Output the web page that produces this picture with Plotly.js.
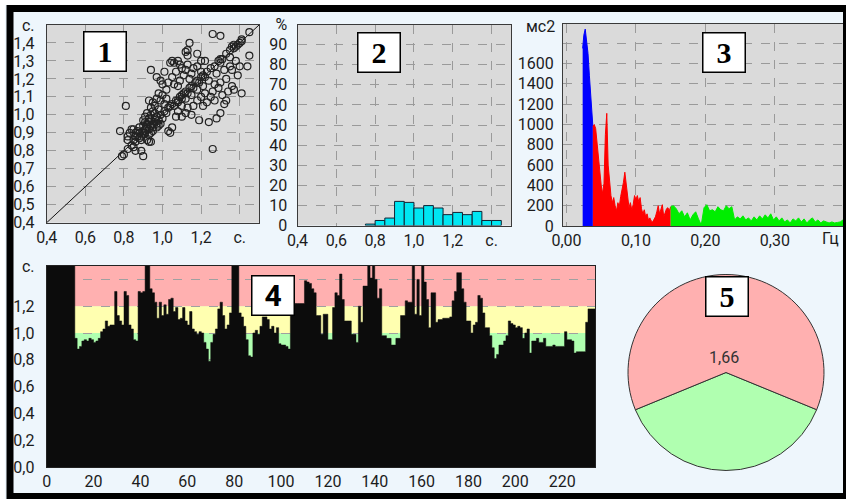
<!DOCTYPE html>
<html><head><meta charset="utf-8">
<script src="https://cdn.plot.ly/plotly-3.0.1.min.js"></script>
<style>html,body{margin:0;padding:0;background:#fff;}</style>
</head><body><div id="chart" style="width:846px;height:499px"></div>
<script>
// ---- Panel 1: Poincaré scatter (RR n vs RR n+1, s) ----
const poincareX = [0.79,0.81,0.78,0.82,0.86,0.90,1.26,
0.80,0.82,0.84,0.85,0.86,0.87,0.88,0.88,0.89,0.90,0.90,0.91,0.91,0.92,0.92,0.93,0.93,0.94,0.94,0.95,0.95,0.96,0.96,0.97,0.97,0.98,0.99,1.00,1.01,1.02,1.03,1.04,1.05,1.06,1.07,1.08,1.09,1.10,1.10,1.11,1.12,1.13,1.14,1.15,1.16,1.17,1.18,1.19,1.20,1.21,1.22,1.23,1.25,1.27,1.29,1.30,1.31,1.33,1.35,1.37,1.38,1.39,1.40,1.41,1.45,
0.90,0.91,0.92,0.93,0.94,0.95,0.96,0.97,0.98,0.99,0.90,0.91,0.93,0.94,0.95,0.92,0.93,0.94,0.88,0.87,0.86,0.85,0.84,0.83,0.82,0.86,0.89,0.89,0.85,
1.04,1.05,1.06,1.08,1.09,1.12,1.13,1.14,1.13,1.18,1.20,1.22,0.94,0.97,0.99,1.00,1.02,1.03,1.05,1.06,1.08,1.09,1.11,1.12,1.14,1.15,1.16,1.13,1.10,1.07,1.18,1.20,1.01,
0.95,0.96,0.97,0.98,0.99,1.00,1.01,1.02,0.94,0.93,
1.05,1.07,1.08,1.10,1.12,1.13,1.15,1.16,1.18,1.19,1.20,1.21,1.22,1.23,1.24,1.25,1.26,1.27,1.28,1.29,1.30,1.31,1.32,1.33,1.34,1.36,1.37,1.39,1.41,1.36,1.33,1.30,1.27,1.24,1.21,1.18,1.15,1.12,1.10,1.08,
1.26,1.30,1.36,1.37,1.41,1.45,1.40,1.44,1.35,1.30,1.35,1.38,1.32,1.28,0.98,1.03,1.04];
const poincareY = [0.77,1.05,0.91,0.88,0.80,0.77,0.81,
0.78,0.81,0.83,0.86,0.85,0.88,0.87,0.90,0.88,0.91,0.89,0.92,0.90,0.93,0.95,0.92,0.96,0.94,0.97,0.95,0.93,0.96,0.98,0.95,0.99,0.97,1.00,0.98,1.02,1.01,1.04,1.05,1.06,1.05,1.08,1.07,1.10,1.09,1.11,1.12,1.13,1.12,1.15,1.16,1.15,1.18,1.19,1.18,1.21,1.22,1.21,1.24,1.26,1.27,1.30,1.29,1.31,1.34,1.36,1.37,1.38,1.39,1.40,1.41,1.46,
0.97,0.99,1.01,0.98,1.00,1.02,1.01,0.93,0.94,0.95,0.94,0.96,0.89,0.90,0.91,0.86,0.85,0.85,0.93,0.91,0.90,0.92,0.92,0.90,0.86,0.88,0.86,0.80,0.82,
1.29,1.30,1.29,1.30,1.28,1.35,1.33,1.40,1.36,1.34,1.30,1.30,1.25,1.21,1.19,1.17,1.14,1.18,1.21,1.17,1.16,1.19,1.22,1.25,1.20,1.23,1.26,1.28,1.26,1.24,1.27,1.24,1.24,
1.07,1.05,1.09,1.12,1.08,1.11,1.06,1.09,1.04,1.08,
0.93,0.99,1.02,0.99,1.01,1.04,1.00,1.05,1.08,0.97,1.10,1.05,1.12,1.07,0.96,1.10,1.13,1.08,0.98,1.15,1.01,1.11,1.06,1.08,1.13,1.16,1.14,1.22,1.12,1.25,1.20,1.18,1.17,1.19,1.16,1.14,1.11,1.09,1.05,1.08,
1.45,1.44,1.38,1.39,1.42,1.33,1.27,1.27,1.27,1.31,1.32,1.30,1.25,1.23,1.03,0.91,0.90];
const diagX = [0.4, 1.5];
const diagY = [0.4, 1.5];

// ---- Panel 2: RR histogram (%), bins of 0.05 s ----
const histCenters = [0.775,0.825,0.875,0.925,0.975,1.025,1.075,1.125,1.175,1.225,1.275,1.325,1.375,1.425];
const histPercent = [0.7,2.5,3.7,12.0,11.5,8.7,9.9,8.7,5.4,6.5,5.4,7.0,2.5,2.5];

// ---- Panel 3: spectrum (ms2) ----
const vlfFreq = [0.0233,0.025,0.027,0.029,0.031,0.033,0.035,0.0365,0.038];
const vlfPow  = [1750,1880,1940,1820,1700,1480,1250,1100,980];
const lfFreq = [0.038,0.040,0.042,0.044,0.046,0.048,0.050,0.052,0.054,0.056,0.058,0.060,0.062,0.064,0.066,0.068,0.070,0.072,0.074,0.076,0.078,0.080,0.082,0.084,0.086,0.088,0.090,0.092,0.094,0.096,0.098,0.100,0.102,0.104,0.106,0.108,0.110,0.112,0.114,0.116,0.118,0.120,0.122,0.124,0.126,0.128,0.130,0.132,0.134,0.136,0.138,0.140,0.142,0.144,0.146,0.148,0.150];
const lfPow  = [980,1000,960,820,690,520,400,320,420,900,1110,600,420,300,230,280,200,150,230,190,290,350,430,530,420,260,180,230,160,210,300,260,300,240,280,170,120,160,90,120,60,80,50,40,70,90,140,200,120,160,210,90,130,170,180,150,190];
const hfFreq = [0.150,0.154,0.158,0.162,0.166,0.170,0.174,0.178,0.182,0.186,0.190,0.194,0.198,0.202,0.206,0.210,0.214,0.218,0.222,0.226,0.230,0.234,0.238,0.242,0.246,0.250,0.254,0.258,0.262,0.266,0.270,0.274,0.278,0.282,0.286,0.290,0.294,0.298,0.302,0.306,0.310,0.314,0.318,0.322,0.326,0.330,0.334,0.338,0.342,0.346,0.350,0.354,0.358,0.362,0.366,0.370,0.374,0.378,0.382,0.386,0.390,0.394,0.398];
const hfPow  = [190,200,170,120,150,90,130,60,110,140,70,10,180,210,150,160,140,190,160,150,200,170,190,60,90,70,100,60,80,50,90,60,100,70,110,80,120,60,90,50,80,40,60,30,70,50,80,40,70,30,60,80,40,60,30,50,40,30,40,30,35,40,60];

// ---- Panel 4: rhythmogram RR intervals (s) per beat ----
const rrValues = [1.6,1.6,1.6,1.6,1.6,1.6,1.6,1.6,1.6,1.6,1.6,1.6,
0.96,0.88,0.90,0.94,0.95,0.94,0.96,0.95,0.93,0.94,0.96,1.01,1.03,1.09,1.05,1.06,1.06,1.31,
1.13,1.09,1.06,1.31,1.28,1.06,1.03,0.95,0.94,1.31,1.30,1.31,1.6,1.6,1.33,1.30,1.23,1.11,1.23,1.13,
1.21,1.14,1.25,1.26,1.16,1.19,1.10,1.11,1.19,1.09,1.06,1.16,1.03,1.01,0.99,1.01,1.00,0.93,0.88,0.79,
0.93,0.99,1.03,1.18,1.23,1.13,1.03,1.06,1.15,1.6,1.6,1.6,1.15,1.12,1.05,0.95,0.83,0.82,1.00,1.02,
0.99,1.05,1.12,1.12,1.10,1.03,1.05,1.00,1.04,0.92,0.91,0.91,0.90,0.88,1.20,1.21,1.22,1.22,1.22,1.22,
1.39,1.38,1.37,1.33,1.30,1.13,1.13,0.99,1.14,1.14,0.95,0.95,1.19,1.30,1.28,1.44,1.25,1.09,1.09,1.09,
0.99,0.99,0.93,1.20,1.08,1.35,1.35,1.6,1.41,1.6,1.40,1.26,1.33,0.98,0.98,0.96,0.96,0.91,0.91,0.96,
0.96,1.13,1.13,1.24,1.23,1.23,1.6,1.14,1.40,1.13,1.6,1.38,1.25,1.04,1.30,1.30,1.08,1.10,1.10,1.11,
1.11,1.11,1.12,1.24,1.31,1.45,1.45,1.33,1.23,1.09,1.09,1.00,1.06,1.08,1.28,1.26,1.15,1.04,1.04,0.98,
0.89,0.81,0.84,0.91,0.91,0.94,0.98,1.09,1.07,1.06,1.04,1.05,1.04,0.96,1.00,1.03,0.85,0.94,0.94,0.96,
0.93,0.93,0.96,0.90,0.90,0.90,0.91,0.90,0.90,0.90,0.90,1.01,0.95,0.95,0.94,0.85,0.86,0.86,0.86,0.86,
1.08,1.18,1.18,1.18];

// ---- Panel 5: LF/HF pie ----
const pieLabels = ['HF', 'LF'];
const pieValues = [1, 1.66];
const pieText = '1,66';

// ---- tick labels ----
const rrTickVals = [0.4,0.6,0.8,1.0,1.2,1.4];
const rrTickText = ['0,4','0,6','0,8','1,0','1,2','с.'];
const p1YVals = [0.4,0.5,0.6,0.7,0.8,0.9,1.0,1.1,1.2,1.3,1.4,1.5];
const p1YText = ['0,4','0,5','0,6','0,7','0,8','0,9','1,0','1,1','1,2','1,3','1,4','с.'];
const p2YVals = [0,10,20,30,40,50,60,70,80,90,100];
const p2YText = ['0','10','20','30','40','50','60','70','80','90','%'];
const p3XVals = [0,0.1,0.2,0.3];
const p3XText = ['0,00','0,10','0,20','0,30'];
const p3YVals = [0,200,400,600,800,1000,1200,1400,1600,1800];
const p3YText = ['0','200','400','600','800','1000','1200','1400','1600',''];
const p4XVals = [0,20,40,60,80,100,120,140,160,180,200,220];
const p4YVals = [0,0.2,0.4,0.6,0.8,1.0,1.2,1.4,1.5];
const p4YText = ['0,0','0,2','0,4','0,6','0,8','1,0','1,2','','с.'];

// beat index axis for panel 4 (step plot needs a trailing edge)
const rrBeat = rrValues.map((v, i) => i);
const rrStepX = rrBeat.concat([rrValues.length]);
const rrStepY = rrValues.concat([rrValues[rrValues.length - 1]]);

const W = 846, H = 499;
const px = v => v / W;
const py = v => 1 - v / H;

const tf = {family: 'Roboto, sans-serif', size: 16, color: '#1c1c1c'};
function ax(extra) {
  return Object.assign({
    showline: true, mirror: true, linecolor: '#3a3a3a', linewidth: 1,
    showgrid: true, gridcolor: '#9a9a9a', griddash: 'dash', gridwidth: 1,
    zeroline: false, ticks: '', tickfont: tf, fixedrange: true,
    tickmode: 'array'
  }, extra);
}

const traces = [
  {type: 'scatter', mode: 'lines', x: diagX, y: diagY, xaxis: 'x', yaxis: 'y',
   line: {color: '#111', width: 1}, hoverinfo: 'skip'},
  {type: 'scatter', mode: 'markers', x: poincareX, y: poincareY, xaxis: 'x', yaxis: 'y',
   marker: {symbol: 'circle-open', size: 7, color: '#222', line: {width: 1.2, color: '#222'}}},
  {type: 'bar', x: histCenters, y: histPercent, width: 0.05, xaxis: 'x2', yaxis: 'y2',
   marker: {color: '#00e6f2', line: {color: '#123', width: 1}}},
  {type: 'scatter', mode: 'lines', x: vlfFreq, y: vlfPow, xaxis: 'x3', yaxis: 'y3',
   fill: 'tozeroy', fillcolor: '#0000ff', line: {color: '#0000ff', width: 1}},
  {type: 'scatter', mode: 'lines', x: lfFreq, y: lfPow, xaxis: 'x3', yaxis: 'y3',
   fill: 'tozeroy', fillcolor: '#ff0000', line: {color: '#ff0000', width: 1}},
  {type: 'scatter', mode: 'lines', x: hfFreq, y: hfPow, xaxis: 'x3', yaxis: 'y3',
   fill: 'tozeroy', fillcolor: '#00ee00', line: {color: '#00ee00', width: 1}},
  {type: 'scatter', mode: 'lines', x: rrStepX, y: rrStepY, xaxis: 'x4', yaxis: 'y4',
   line: {shape: 'hv', color: '#0c0c0c', width: 0.5}, fill: 'tozeroy', fillcolor: '#0c0c0c'},
  {type: 'pie', labels: pieLabels, values: pieValues, sort: false, direction: 'clockwise',
   rotation: 112.3, textinfo: 'none', hoverinfo: 'skip',
   marker: {colors: ['#b0ffb0', '#ffb0b0'], line: {color: '#333', width: 1}},
   domain: {x: [px(628), px(824)], y: [py(470.5), py(274.5)]}}
];

function box(t, xc, yc, fam) {
  return {xref: 'paper', yref: 'paper', x: px(xc), y: py(yc), xanchor: 'center', yanchor: 'middle',
    text: '<b>' + t + '</b>', showarrow: false, font: {family: fam, size: 30, color: '#000'},
    bgcolor: '#ffffff', bordercolor: '#000', borderwidth: 1.5, borderpad: 0, width: 41, height: 38};
}

const layout = {
  width: W, height: H, margin: {l: 0, r: 0, t: 0, b: 0},
  paper_bgcolor: '#eef6fc', plot_bgcolor: '#dadada', showlegend: false,
  bargap: 0,
  xaxis: ax({domain: [px(46.7), px(259)], range: [0.4, 1.5], anchor: 'y', tickvals: rrTickVals, ticktext: rrTickText}),
  yaxis: ax({domain: [py(222.7), py(25)], range: [0.4, 1.5], anchor: 'x', tickvals: p1YVals, ticktext: p1YText, ticklabelstandoff: 8}),
  xaxis2: ax({domain: [px(297.5), px(511)], range: [0.4, 1.5], anchor: 'y2', tickvals: rrTickVals, ticktext: rrTickText}),
  yaxis2: ax({domain: [py(225.5), py(24.5)], range: [0, 100], anchor: 'x2', tickvals: p2YVals, ticktext: p2YText, ticklabelstandoff: 6}),
  xaxis3: ax({domain: [px(563), px(843)], range: [-0.005, 0.398], anchor: 'y3', tickvals: p3XVals, ticktext: p3XText}),
  yaxis3: ax({domain: [py(226), py(24)], range: [0, 1990], anchor: 'x3', tickvals: p3YVals, ticktext: p3YText, ticklabelstandoff: 5}),
  xaxis4: ax({domain: [px(46.7), px(595)], range: [0, 234], anchor: 'y4', tickvals: p4XVals, showgrid: false, linecolor: '#222'}),
  yaxis4: ax({domain: [py(467), py(266)], range: [0, 1.5], anchor: 'x4', tickvals: p4YVals, ticktext: p4YText, gridcolor: '#a0a0a0', linecolor: '#222', ticklabelstandoff: 8}),
  shapes: [
    {type: 'rect', xref: 'x4', yref: 'y4', x0: 0, x1: 234, y0: 1.2, y1: 1.6, fillcolor: '#ffb0b0', line: {width: 0}, layer: 'below'},
    {type: 'rect', xref: 'x4', yref: 'y4', x0: 0, x1: 234, y0: 1.0, y1: 1.2, fillcolor: '#ffffb0', line: {width: 0}, layer: 'below'},
    {type: 'rect', xref: 'x4', yref: 'y4', x0: 0, x1: 234, y0: 0, y1: 1.0, fillcolor: '#b0ffb0', line: {width: 0}, layer: 'below'},
    {type: 'rect', xref: 'paper', yref: 'paper', x0: px(0), x1: px(870), y0: py(520), y1: py(0), line: {color: '#ffffff', width: 10}, fillcolor: 'rgba(0,0,0,0)'},
    {type: 'rect', xref: 'paper', yref: 'paper', x0: px(10), x1: px(846.5), y0: py(496.5), y1: py(8.5), line: {color: '#000000', width: 7}, fillcolor: 'rgba(0,0,0,0)'}
  ],
  annotations: [
    {xref: 'paper', yref: 'paper', x: px(557), y: py(27), xanchor: 'right', yanchor: 'middle', text: 'мс2', showarrow: false, font: tf},
    {xref: 'paper', yref: 'paper', x: px(830), y: py(239), xanchor: 'center', yanchor: 'middle', text: 'Гц', showarrow: false, font: tf},
    {xref: 'paper', yref: 'paper', x: px(724), y: py(357), xanchor: 'center', yanchor: 'middle', text: pieText, showarrow: false, font: {family: 'Roboto, sans-serif', size: 16, color: '#333'}},
    box('1', 105, 51.5, 'Liberation Serif, serif'),
    box('2', 379, 52, 'Liberation Serif, serif'),
    box('3', 724, 52, 'Liberation Serif, serif'),
    box('4', 273, 295, 'Roboto, Arial, sans-serif'),
    box('5', 726.5, 296.5, 'Liberation Serif, serif')
  ]
};

Plotly.newPlot('chart', traces, layout, {staticPlot: true, displayModeBar: false});
</script></body></html>
